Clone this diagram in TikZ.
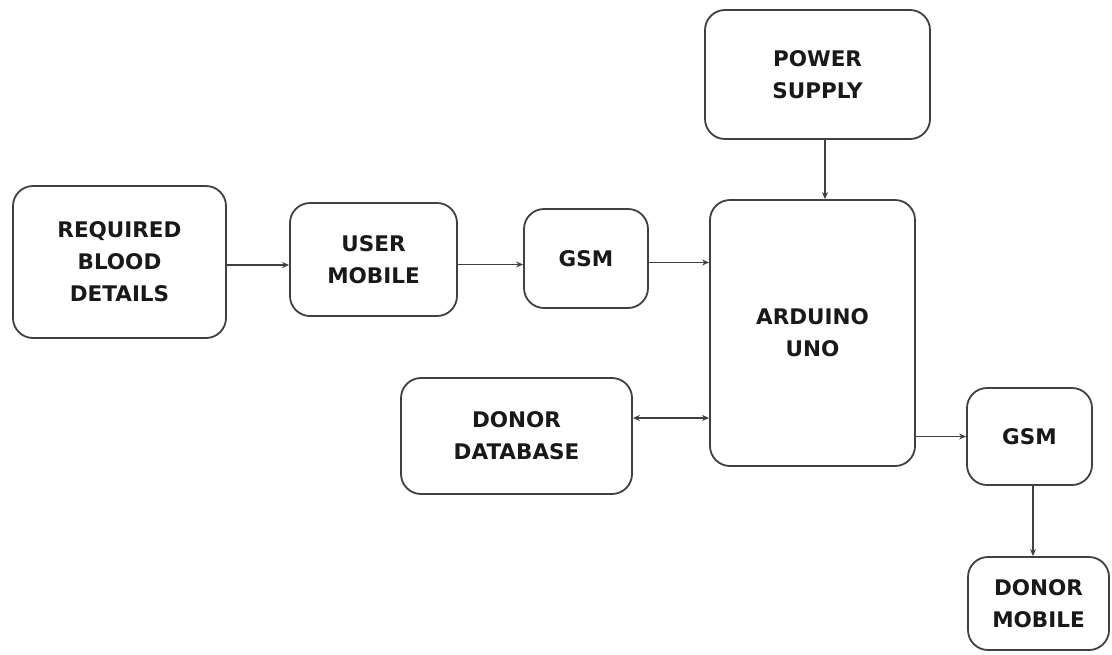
\documentclass[tikz,border=0pt]{standalone}
\usepackage{fontspec}
\setmainfont{DejaVu Sans}
\usetikzlibrary{arrows.meta}
\begin{document}
\begin{tikzpicture}[x=1pt,y=-1pt,
  blk/.style={draw=black!75, line width=1.8pt, rounded corners=20pt, fill=white,
    align=center, font=\bfseries\fontsize{21.5}{32}\selectfont, text=black!90,
    inner sep=0pt, text depth=0pt},
  arr/.style={draw=black!75, line width=1.6pt, -{Stealth[length=7pt,width=6pt]}},
  darr/.style={draw=black!75, line width=1.6pt, {Stealth[length=7pt,width=6pt]}-{Stealth[length=7pt,width=6pt]}}]
\useasboundingbox (0,0) rectangle (1112,654);
\node[blk, minimum width=213pt, minimum height=152pt] (rbd) at (119.5,262) {REQUIRED\\BLOOD\\DETAILS};
\node[blk, minimum width=167pt, minimum height=113pt] (um) at (373.5,259.5) {USER\\MOBILE};
\node[blk, minimum width=124pt, minimum height=99pt] (gsm1) at (586,258.5) {GSM};
\node[blk, minimum width=225pt, minimum height=129pt] (ps) at (817.5,74.5) {POWER\\SUPPLY};
\node[blk, minimum width=205pt, minimum height=266pt] (ard) at (812.5,333) {ARDUINO\\UNO};
\node[blk, minimum width=231pt, minimum height=116pt] (db) at (516.5,436) {DONOR\\DATABASE};
\node[blk, minimum width=125pt, minimum height=97pt] (gsm2) at (1029.5,436.5) {GSM};
\node[blk, minimum width=141pt, minimum height=93pt] (dm) at (1038.5,603.5) {DONOR\\MOBILE};
\draw[arr] ([yshift=-3pt]rbd.east) -- ([yshift=-3pt]rbd.east -| um.west);
\draw[arr] ([yshift=-5pt]um.east) -- ([yshift=-5pt]um.east -| gsm1.west);
\draw[arr] ([yshift=-4pt]gsm1.east) -- ([yshift=-4pt]gsm1.east -| ard.west);
\draw[arr] ([xshift=7.5pt]ps.south) -- ([xshift=7.5pt]ps.south |- ard.north);
\draw[darr] ([yshift=18pt]db.east) -- ([yshift=18pt]db.east -| ard.west);
\draw[arr] (ard.east |- gsm2.west) -- (gsm2.west);
\draw[arr] ([xshift=3.5pt]gsm2.south) -- ([xshift=3.5pt]gsm2.south |- dm.north);
\end{tikzpicture}
\end{document}
